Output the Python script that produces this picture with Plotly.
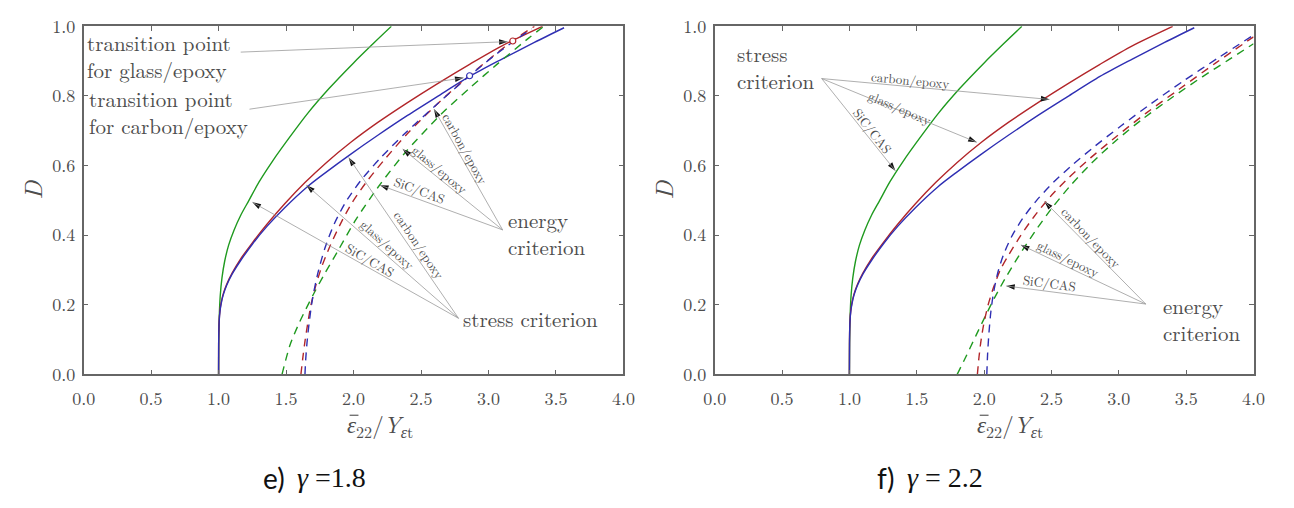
import math
import plotly.graph_objects as go

# ---------------- data ----------------
# stress criterion (identical in both panels)
stress_sic_x = [1.0, 1.001, 1.005, 1.012, 1.025, 1.045, 1.075, 1.115, 1.165, 1.225, 1.30, 1.40, 1.52, 1.66, 1.82, 2.0, 2.15, 2.28]
stress_sic_D = [0.0, 0.085, 0.165, 0.225, 0.277, 0.325, 0.372, 0.415, 0.458, 0.50, 0.553, 0.613, 0.678, 0.75, 0.822, 0.895, 0.952, 1.0]
stress_glass_x = [1.0, 1.001, 1.004, 1.01, 1.02, 1.035, 1.06, 1.10, 1.16, 1.25, 1.36, 1.49, 1.64, 1.80, 1.98, 2.18, 2.40, 2.62, 2.86, 3.10, 3.40]
stress_glass_D = [0.0, 0.108, 0.153, 0.183, 0.208, 0.232, 0.259, 0.291, 0.33, 0.378, 0.432, 0.49, 0.551, 0.609, 0.667, 0.724, 0.781, 0.835, 0.891, 0.944, 1.0]
stress_carbon_x = [1.0, 1.001, 1.004, 1.01, 1.02, 1.035, 1.06, 1.10, 1.16, 1.25, 1.36, 1.49, 1.66, 1.80, 1.98, 2.18, 2.40, 2.62, 2.86, 3.10, 3.34, 3.56]
stress_carbon_D = [0.0, 0.105, 0.15, 0.18, 0.205, 0.229, 0.256, 0.288, 0.325, 0.374, 0.426, 0.479, 0.54, 0.582, 0.633, 0.687, 0.744, 0.798, 0.856, 0.906, 0.954, 0.996]

# energy criterion, gamma = 1.8
e18_sic_x = [1.47, 1.53, 1.60, 1.70, 1.78, 1.88, 2.01, 2.18, 2.38, 2.65, 2.87, 3.06, 3.30, 3.41]
e18_sic_D = [0.0, 0.085, 0.15, 0.228, 0.285, 0.352, 0.44, 0.537, 0.636, 0.748, 0.826, 0.89, 0.967, 1.0]
e18_glass_x = [1.61, 1.625, 1.64, 1.66, 1.685, 1.72, 1.765, 1.825, 1.905, 1.99, 2.10, 2.24, 2.40, 2.58, 2.76, 2.95, 3.18, 3.34]
e18_glass_D = [0.0, 0.05, 0.095, 0.145, 0.2, 0.255, 0.31, 0.368, 0.434, 0.494, 0.555, 0.622, 0.692, 0.762, 0.826, 0.888, 0.959, 1.0]
e18_carbon_x = [1.64, 1.645, 1.655, 1.67, 1.695, 1.735, 1.79, 1.86, 1.95, 2.06, 2.20, 2.38, 2.60, 2.86, 3.04, 3.18, 3.32]
e18_carbon_D = [0.0, 0.04, 0.09, 0.145, 0.215, 0.29, 0.365, 0.435, 0.5, 0.56, 0.622, 0.692, 0.77, 0.858, 0.915, 0.955, 0.993]

# energy criterion, gamma = 2.2
e22_sic_x = [1.80, 1.87, 1.94, 2.01, 2.08, 2.16, 2.26, 2.38, 2.50, 2.64, 2.80, 2.98, 3.18, 3.40, 3.62, 3.82, 4.0]
e22_sic_D = [0.0, 0.055, 0.112, 0.168, 0.222, 0.278, 0.342, 0.412, 0.476, 0.542, 0.608, 0.672, 0.735, 0.797, 0.855, 0.905, 0.95]
e22_glass_x = [1.95, 1.962, 1.978, 2.0, 2.03, 2.07, 2.12, 2.185, 2.27, 2.37, 2.49, 2.63, 2.79, 2.98, 3.20, 3.45, 3.72, 4.0]
e22_glass_D = [0.0, 0.05, 0.1, 0.15, 0.2, 0.25, 0.3, 0.345, 0.398, 0.453, 0.51, 0.566, 0.622, 0.683, 0.75, 0.82, 0.895, 0.97]
e22_carbon_x = [2.02, 2.026, 2.036, 2.05, 2.07, 2.10, 2.145, 2.21, 2.29, 2.39, 2.51, 2.65, 2.82, 3.02, 3.24, 3.48, 3.74, 4.0]
e22_carbon_D = [0.0, 0.06, 0.12, 0.18, 0.235, 0.29, 0.345, 0.4, 0.45, 0.5, 0.55, 0.6, 0.655, 0.715, 0.778, 0.843, 0.91, 0.975]

# transition points (gamma = 1.8): glass/epoxy, carbon/epoxy
trans_x = [3.18, 2.86]
trans_D = [0.958, 0.858]

x_ticks = [0.0, 0.5, 1.0, 1.5, 2.0, 2.5, 3.0, 3.5, 4.0]
y_ticks = [0.0, 0.2, 0.4, 0.6, 0.8, 1.0]

# ---------------- styles ----------------
GREEN = "#1f9a1f"
RED = "#b2262a"
BLUE = "#2f2fb3"
TXT = "#4d4d4d"
LEAD = "#9a9a9a"
SERIF = "Latin Modern Roman"
W, H = 1294, 508
LEFT_DOM = (73, 623)
RIGHT_DOM = (716, 1265)
Y_DOM = (13, 379)

fig = go.Figure()


def add_curve(xs, ys, color, dashed, xa, ya):
    fig.add_trace(go.Scatter(
        x=xs, y=ys, mode="lines", xaxis=xa, yaxis=ya,
        line=dict(color=color, width=1.4, shape="spline", smoothing=0.8,
                  dash="8px,6px" if dashed else "solid"),
        showlegend=False, hoverinfo="skip"))


for xa, ya in (("x", "y"), ("x2", "y2")):
    add_curve(stress_sic_x, stress_sic_D, GREEN, False, xa, ya)
    add_curve(stress_glass_x, stress_glass_D, RED, False, xa, ya)
    add_curve(stress_carbon_x, stress_carbon_D, BLUE, False, xa, ya)

add_curve(e18_sic_x, e18_sic_D, GREEN, True, "x", "y")
add_curve(e18_glass_x, e18_glass_D, RED, True, "x", "y")
add_curve(e18_carbon_x, e18_carbon_D, BLUE, True, "x", "y")

add_curve(e22_sic_x, e22_sic_D, GREEN, True, "x2", "y2")
add_curve(e22_glass_x, e22_glass_D, RED, True, "x2", "y2")
add_curve(e22_carbon_x, e22_carbon_D, BLUE, True, "x2", "y2")

fig.add_trace(go.Scatter(
    x=trans_x, y=trans_D, mode="markers", xaxis="x", yaxis="y",
    marker=dict(size=6, color="white", line=dict(color=[RED, BLUE], width=1.2)),
    showlegend=False, hoverinfo="skip"))

shapes = []
annotations = []
heads = {"x": ([], [], []), "x2": ([], [], [])}


def leader(xa, ya, hub, tip):
    shapes.append(dict(type="line", xref=xa, yref=ya, x0=hub[0], y0=hub[1],
                       x1=tip[0], y1=tip[1], line=dict(color=LEAD, width=0.8)))
    dom = LEFT_DOM if xa == "x" else RIGHT_DOM
    sx = (dom[1] - dom[0]) / 4.0
    sy = (Y_DOM[1] - Y_DOM[0]) / 1.0
    dxs = (tip[0] - hub[0]) * sx
    dys = -(tip[1] - hub[1]) * sy
    ang = math.degrees(math.atan2(dxs, -dys))
    hx, hy, ha = heads[xa]
    hx.append(tip[0])
    hy.append(tip[1])
    ha.append(ang)


def label(xa, ya, x, y, text, size, angle=0, anchor="center"):
    annotations.append(dict(x=x, y=y, xref=xa, yref=ya, text=text, showarrow=False,
                            textangle=angle, xanchor=anchor, yanchor="middle", align="left",
                            font=dict(family=SERIF, size=size, color=TXT)))


# ---- left panel (gamma = 1.8) ----
hub_s = (2.778, 0.161)
hub_e = (3.105, 0.415)
leader("x", "y", hub_s, (1.251, 0.4945))
leader("x", "y", hub_s, (1.651, 0.5437))
leader("x", "y", hub_s, (1.964, 0.623))
leader("x", "y", hub_e, (2.196, 0.5437))
leader("x", "y", hub_e, (2.364, 0.6475))
leader("x", "y", hub_e, (2.596, 0.7623))
leader("x", "y", (1.164, 0.926), (3.142, 0.956))
leader("x", "y", (1.229, 0.762), (2.815, 0.852))

label("x", "y", 0.01, 0.9167, "transition point<br>for glass/epoxy", 21, anchor="left")
label("x", "y", 0.024, 0.7555, "transition point<br>for carbon/epoxy", 21, anchor="left")
label("x", "y", 2.795, 0.161, "stress criterion", 21, anchor="left")
label("x", "y", 3.13, 0.408, "energy<br>criterion", 21, anchor="left")
label("x", "y", 2.124, 0.331, "SiC/CAS", 13, 30)
label("x", "y", 2.255, 0.372, "glass/epoxy", 13, 42)
label("x", "y", 2.487, 0.372, "carbon/epoxy", 13, 56)
label("x", "y", 2.487, 0.530, "SiC/CAS", 13, 20.6)
label("x", "y", 2.647, 0.590, "glass/epoxy", 13, 40)
label("x", "y", 2.829, 0.648, "carbon/epoxy", 13, 61)

# ---- right panel (gamma = 2.2) ----
hub_s2 = (0.794, 0.85)
hub_e2 = (3.20, 0.202)
leader("x2", "y2", hub_s2, (2.485, 0.79))
leader("x2", "y2", hub_s2, (1.945, 0.667))
leader("x2", "y2", hub_s2, (1.341, 0.585))
leader("x2", "y2", hub_e2, (2.448, 0.497))
leader("x2", "y2", hub_e2, (2.273, 0.372))
leader("x2", "y2", hub_e2, (2.164, 0.254))

label("x2", "y2", 0.15, 0.885, "stress<br>criterion", 21, anchor="left")
label("x2", "y2", 3.31, 0.161, "energy<br>criterion", 21, anchor="left")
label("x2", "y2", 1.457, 0.847, "carbon/epoxy", 13, 5.4)
label("x2", "y2", 1.377, 0.768, "glass/epoxy", 13, 23)
label("x2", "y2", 1.173, 0.700, "SiC/CAS", 13, 52)
label("x2", "y2", 2.798, 0.393, "carbon/epoxy", 13, 46)
label("x2", "y2", 2.630, 0.333, "glass/epoxy", 13, 26)
label("x2", "y2", 2.485, 0.265, "SiC/CAS", 13, 7.6)

# arrowheads (black, tip on the curve)
for xa, ya in (("x", "y"), ("x2", "y2")):
    hx, hy, ha = heads[xa]
    fig.add_trace(go.Scatter(
        x=hx, y=hy, mode="markers", xaxis=xa, yaxis=ya,
        marker=dict(symbol="arrow", size=9, angle=ha, color="#111111", line=dict(width=0)),
        showlegend=False, hoverinfo="skip"))


# ---- axis titles & captions (paper coords) ----
def paper(px, py, text, size, family=SERIF, color=TXT, angle=0, anchor="center"):
    annotations.append(dict(x=px / W, y=1 - py / H, xref="paper", yref="paper", text=text,
                            showarrow=False, textangle=angle, xanchor=anchor, yanchor="middle",
                            font=dict(family=family, size=size, color=color)))


xtitle = "<i>ε</i><sub>22</sub>/<i>Y</i><sub><i>ε</i>t</sub>"
for left_px in (339, 981):
    paper(left_px, 432, xtitle, 23, anchor="left")
    # bar over epsilon
    shapes.append(dict(type="line", xref="paper", yref="paper",
                       x0=(left_px + 5) / W, x1=(left_px + 14) / W,
                       y0=1 - 422 / H, y1=1 - 422 / H, line=dict(color=TXT, width=1.1)))
paper(20, 185, "<i>D</i>", 25, angle=-90)
paper(663, 185, "<i>D</i>", 25, angle=-90)
paper(254, 488, "e)", 28, family="Lato", color="#111111", anchor="left")
paper(288, 488, "<i>γ</i> =1.8", 28, family="Liberation Serif", color="#111111", anchor="left")
paper(879, 488, "f)", 28, family="Lato", color="#111111", anchor="left")
paper(910, 488, "<i>γ</i> = 2.2", 28, family="Liberation Serif", color="#111111", anchor="left")

axis_common = dict(range=[0, 4], showgrid=False, zeroline=False, showline=True, linecolor="#666666",
                   linewidth=1.5, mirror="ticks", ticks="inside", ticklen=5, tickcolor="#666666",
                   tickwidth=1, ticklabeloverflow="allow",
                   tickfont=dict(family=SERIF, size=18, color=TXT))
xaxis_common = dict(axis_common, ticklabelstandoff=7)
yaxis_common = dict(axis_common, ticklabelstandoff=3)
yaxis_common["range"] = [0, 1]

fig.update_layout(
    width=W, height=H, autosize=False, margin=dict(l=0, r=0, t=0, b=0),
    paper_bgcolor="white", plot_bgcolor="white",
    xaxis=dict(xaxis_common, domain=[LEFT_DOM[0] / W, LEFT_DOM[1] / W], anchor="y", tickvals=x_ticks,
               ticktext=[f"{v:.1f}" for v in x_ticks]),
    yaxis=dict(yaxis_common, domain=[1 - Y_DOM[1] / H, 1 - Y_DOM[0] / H], anchor="x", tickvals=y_ticks,
               ticktext=[f"{v:.1f}" for v in y_ticks]),
    xaxis2=dict(xaxis_common, domain=[RIGHT_DOM[0] / W, RIGHT_DOM[1] / W], anchor="y2", tickvals=x_ticks,
                ticktext=[f"{v:.1f}" for v in x_ticks]),
    yaxis2=dict(yaxis_common, domain=[1 - Y_DOM[1] / H, 1 - Y_DOM[0] / H], anchor="x2", tickvals=y_ticks,
                ticktext=[f"{v:.1f}" for v in y_ticks]),
    shapes=shapes, annotations=annotations,
)

fig.write_html("out.html")
